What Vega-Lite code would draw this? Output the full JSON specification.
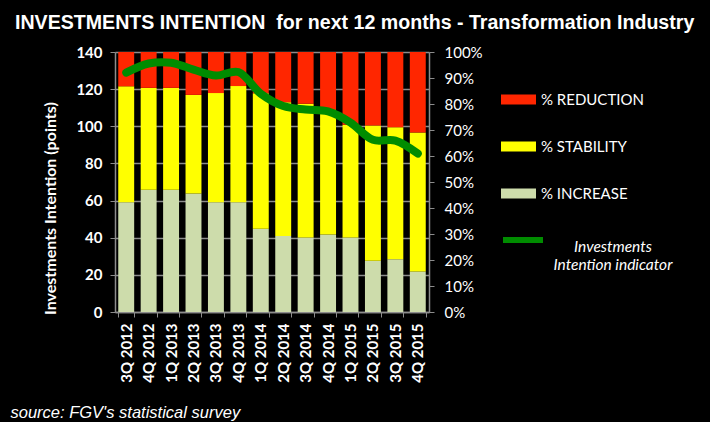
{
  "$schema": "https://vega.github.io/schema/vega-lite/v6.json",
  "width": 314,
  "height": 260,
  "autosize": {"type": "none"},
  "padding": {"left": 115, "top": 52, "right": 281, "bottom": 110},
  "background": "black",
  "title": {
    "text": "INVESTMENTS INTENTION\u00a0 for next 12 months - Transformation Industry",
    "font": "Liberation Sans",
    "fontSize": 19.6,
    "fontWeight": "bold",
    "color": "white",
    "anchor": "start",
    "frame": "group",
    "dx": -100,
    "offset": 11
  },
  "datasets": {
    "bars": [
      {"q": "3Q 2012", "cat": "% INCREASE", "k": 1, "pct": 42.2},
      {"q": "3Q 2012", "cat": "% STABILITY", "k": 2, "pct": 44.6},
      {"q": "3Q 2012", "cat": "% REDUCTION", "k": 3, "pct": 13.2},
      {"q": "4Q 2012", "cat": "% INCREASE", "k": 1, "pct": 47.0},
      {"q": "4Q 2012", "cat": "% STABILITY", "k": 2, "pct": 39.2},
      {"q": "4Q 2012", "cat": "% REDUCTION", "k": 3, "pct": 13.8},
      {"q": "1Q 2013", "cat": "% INCREASE", "k": 1, "pct": 47.0},
      {"q": "1Q 2013", "cat": "% STABILITY", "k": 2, "pct": 39.2},
      {"q": "1Q 2013", "cat": "% REDUCTION", "k": 3, "pct": 13.8},
      {"q": "2Q 2013", "cat": "% INCREASE", "k": 1, "pct": 45.6},
      {"q": "2Q 2013", "cat": "% STABILITY", "k": 2, "pct": 37.9},
      {"q": "2Q 2013", "cat": "% REDUCTION", "k": 3, "pct": 16.5},
      {"q": "3Q 2013", "cat": "% INCREASE", "k": 1, "pct": 42.2},
      {"q": "3Q 2013", "cat": "% STABILITY", "k": 2, "pct": 42.0},
      {"q": "3Q 2013", "cat": "% REDUCTION", "k": 3, "pct": 15.8},
      {"q": "4Q 2013", "cat": "% INCREASE", "k": 1, "pct": 42.2},
      {"q": "4Q 2013", "cat": "% STABILITY", "k": 2, "pct": 44.7},
      {"q": "4Q 2013", "cat": "% REDUCTION", "k": 3, "pct": 13.1},
      {"q": "1Q 2014", "cat": "% INCREASE", "k": 1, "pct": 32.0},
      {"q": "1Q 2014", "cat": "% STABILITY", "k": 2, "pct": 52.1},
      {"q": "1Q 2014", "cat": "% REDUCTION", "k": 3, "pct": 15.9},
      {"q": "2Q 2014", "cat": "% INCREASE", "k": 1, "pct": 29.2},
      {"q": "2Q 2014", "cat": "% STABILITY", "k": 2, "pct": 51.5},
      {"q": "2Q 2014", "cat": "% REDUCTION", "k": 3, "pct": 19.3},
      {"q": "3Q 2014", "cat": "% INCREASE", "k": 1, "pct": 28.7},
      {"q": "3Q 2014", "cat": "% STABILITY", "k": 2, "pct": 51.4},
      {"q": "3Q 2014", "cat": "% REDUCTION", "k": 3, "pct": 19.9},
      {"q": "4Q 2014", "cat": "% INCREASE", "k": 1, "pct": 29.8},
      {"q": "4Q 2014", "cat": "% STABILITY", "k": 2, "pct": 48.1},
      {"q": "4Q 2014", "cat": "% REDUCTION", "k": 3, "pct": 22.1},
      {"q": "1Q 2015", "cat": "% INCREASE", "k": 1, "pct": 28.7},
      {"q": "1Q 2015", "cat": "% STABILITY", "k": 2, "pct": 43.3},
      {"q": "1Q 2015", "cat": "% REDUCTION", "k": 3, "pct": 28.0},
      {"q": "2Q 2015", "cat": "% INCREASE", "k": 1, "pct": 19.7},
      {"q": "2Q 2015", "cat": "% STABILITY", "k": 2, "pct": 52.0},
      {"q": "2Q 2015", "cat": "% REDUCTION", "k": 3, "pct": 28.3},
      {"q": "3Q 2015", "cat": "% INCREASE", "k": 1, "pct": 20.3},
      {"q": "3Q 2015", "cat": "% STABILITY", "k": 2, "pct": 50.8},
      {"q": "3Q 2015", "cat": "% REDUCTION", "k": 3, "pct": 28.9},
      {"q": "4Q 2015", "cat": "% INCREASE", "k": 1, "pct": 15.6},
      {"q": "4Q 2015", "cat": "% STABILITY", "k": 2, "pct": 53.4},
      {"q": "4Q 2015", "cat": "% REDUCTION", "k": 3, "pct": 31.0}
    ],
    "line": [
      {"q": "3Q 2012", "s": "Investments Intention indicator", "pts": 128.9},
      {"q": "4Q 2012", "s": "Investments Intention indicator", "pts": 133.8},
      {"q": "1Q 2013", "s": "Investments Intention indicator", "pts": 134.2},
      {"q": "2Q 2013", "s": "Investments Intention indicator", "pts": 130.5},
      {"q": "3Q 2013", "s": "Investments Intention indicator", "pts": 127.3},
      {"q": "4Q 2013", "s": "Investments Intention indicator", "pts": 129.2},
      {"q": "1Q 2014", "s": "Investments Intention indicator", "pts": 117.5},
      {"q": "2Q 2014", "s": "Investments Intention indicator", "pts": 110.9},
      {"q": "3Q 2014", "s": "Investments Intention indicator", "pts": 109.0},
      {"q": "4Q 2014", "s": "Investments Intention indicator", "pts": 108.0},
      {"q": "1Q 2015", "s": "Investments Intention indicator", "pts": 102.0},
      {"q": "2Q 2015", "s": "Investments Intention indicator", "pts": 92.7},
      {"q": "3Q 2015", "s": "Investments Intention indicator", "pts": 92.3},
      {"q": "4Q 2015", "s": "Investments Intention indicator", "pts": 85.3}
    ]
  },
  "layer": [
    {
      "data": {"name": "bars"},
      "mark": {"type": "bar"},
      "encoding": {
        "x": {
          "field": "q",
          "type": "ordinal",
          "sort": null,
          "scale": {"paddingInner": 0.29, "paddingOuter": 0.145},
          "axis": {
            "labelAngle": -90,
            "labelFont": "Lato",
            "labelFontWeight": "bold",
            "labelFontSize": 15,
            "labelColor": "white",
            "labelPadding": 6,
            "tickBand": "extent",
            "tickSize": 5,
            "tickColor": "#8c8c8c",
            "domainColor": "#8c8c8c",
            "domainWidth": 1.5,
            "title": "source: FGV's statistical survey",
            "titleFont": "Liberation Sans",
            "titleFontStyle": "italic",
            "titleFontWeight": "normal",
            "titleFontSize": 16.5,
            "titleColor": "white",
            "titleAnchor": "start",
            "titleAlign": "left",
            "titleBaseline": "alphabetic",
            "titleX": -105,
            "titleY": 105
          }
        },
        "y": {
          "field": "pct",
          "type": "quantitative",
          "stack": "zero",
          "scale": {"domain": [0, 100], "nice": false},
          "axis": {
            "orient": "right",
            "values": [0, 10, 20, 30, 40, 50, 60, 70, 80, 90, 100],
            "labelExpr": "datum.value + '%'",
            "grid": false,
            "labelFont": "Lato",
            "labelFontSize": 15,
            "labelColor": "white",
            "labelPadding": 10,
            "tickSize": 5,
            "tickColor": "#8c8c8c",
            "domainColor": "#8c8c8c",
            "domainWidth": 1.5,
            "title": null
          }
        },
        "order": {"field": "k", "type": "quantitative"},
        "color": {
          "field": "cat",
          "type": "nominal",
          "scale": {
            "domain": ["% REDUCTION", "% STABILITY", "% INCREASE"],
            "range": ["#ff2600", "#ffff00", "#cddcab"]
          },
          "legend": {
            "orient": "none",
            "legendX": 386,
            "legendY": 30,
            "title": null,
            "symbolType": "M-1,-0.28H1V0.28H-1Z",
            "symbolSize": 1225,
            "symbolStrokeWidth": 0,
            "symbolOpacity": 1,
            "labelFont": "Lato",
            "labelFontSize": 15,
            "labelColor": "white",
            "labelOffset": 5,
            "rowPadding": 21
          }
        }
      }
    },
    {
      "data": {"name": "line"},
      "mark": {"type": "line", "interpolate": "catmull-rom", "strokeWidth": 8, "strokeCap": "round", "strokeJoin": "round"},
      "encoding": {
        "x": {"field": "q", "type": "ordinal", "sort": null},
        "y": {
          "field": "pts",
          "type": "quantitative",
          "scale": {"domain": [0, 140], "nice": false},
          "axis": {
            "orient": "left",
            "values": [0, 20, 40, 60, 80, 100, 120, 140],
            "grid": true,
            "gridColor": "#8c8c8c",
            "gridWidth": 1.5,
            "labelFont": "Lato",
            "labelFontWeight": "bold",
            "labelFontSize": 15,
            "labelColor": "white",
            "labelPadding": 8,
            "tickSize": 5,
            "tickColor": "#8c8c8c",
            "domainColor": "#8c8c8c",
            "domainWidth": 1.5,
            "title": "Investments Intention (points)",
            "titleFont": "Lato",
            "titleFontWeight": "bold",
            "titleFontSize": 16,
            "titleColor": "white",
            "titleAngle": -90,
            "titleBaseline": "bottom",
            "titleX": -57,
            "titleY": 156
          }
        },
        "stroke": {
          "field": "s",
          "type": "nominal",
          "scale": {"range": ["#008c00"]},
          "legend": {
            "orient": "none",
            "legendX": 385,
            "legendY": 165,
            "title": null,
            "symbolType": "stroke",
            "symbolSize": 1600,
            "symbolStrokeWidth": 6,
            "labelExpr": "['Investments', 'Intention indicator']",
            "labelAlign": "center",
            "labelBaseline": "top",
            "labelFont": "Lato",
            "labelFontStyle": "italic",
            "labelFontSize": 15.5,
            "labelColor": "white",
            "labelOffset": 67,
            "labelLimit": 0
          }
        }
      }
    }
  ],
  "resolve": {"scale": {"y": "independent", "color": "independent", "stroke": "independent"}},
  "config": {"view": {"stroke": null}}
}
